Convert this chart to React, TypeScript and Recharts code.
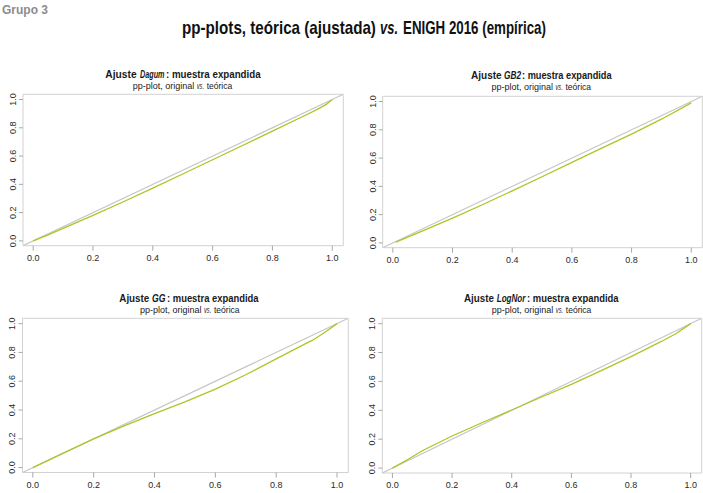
import React, { useLayoutEffect, useRef, useState } from 'react';
import { LineChart, Line, XAxis, YAxis, ReferenceArea } from 'recharts';

const axisTicks = [0, 0.2, 0.4, 0.6, 0.8, 1];
const D_MIN = -0.034;
const D_MAX = 1.037;

const dagumX = [0, 0.05, 0.1, 0.2, 0.3, 0.4, 0.5, 0.6, 0.7, 0.8, 0.9, 0.95, 0.98, 1];
const dagumY = [0, 0.043, 0.088, 0.18, 0.275, 0.373, 0.473, 0.574, 0.675, 0.776, 0.878, 0.93, 0.966, 1];

const gb2X = [0.01, 0.1, 0.2, 0.3, 0.4, 0.5, 0.6, 0.7, 0.8, 0.9, 1];
const gb2Y = [0.005, 0.085, 0.175, 0.27, 0.368, 0.468, 0.57, 0.67, 0.77, 0.875, 0.99];

const ggX = [0, 0.1, 0.2, 0.3, 0.4, 0.5, 0.6, 0.7, 0.8, 0.9, 0.92, 0.96, 1];
const ggY = [0, 0.1, 0.2, 0.29, 0.375, 0.457, 0.545, 0.645, 0.755, 0.865, 0.885, 0.94, 1];

const lognorX = [0, 0.05, 0.1, 0.2, 0.3, 0.4, 0.5, 0.6, 0.7, 0.8, 0.9, 0.95, 1];
const lognorY = [0, 0.058, 0.12, 0.222, 0.314, 0.402, 0.492, 0.58, 0.675, 0.772, 0.875, 0.93, 1];

const GREEN = '#b1c326';
const DIAG = '#c6c6c6';
const BOX = '#d2d2d2';
const TICK = '#a8a8a8';
const FONT = 'Liberation Sans, Arial, sans-serif';
const TITLE_FONT = 'Liberation Sans Narrow, Liberation Sans, sans-serif';

const toPoints = (xs: number[], ys: number[]) => xs.map((x, i) => ({ x, y: ys[i] }));
const diagonal = [
  { x: D_MIN, y: D_MIN },
  { x: D_MAX, y: D_MAX },
];

const YTick = (props: any) => {
  const { x, y, payload } = props;
  const cx = x - 4;
  return (
    <text
      x={cx}
      y={y}
      transform={`rotate(-90, ${cx}, ${y})`}
      textAnchor="middle"
      dominantBaseline="central"
      fontSize={9}
      fontFamily={FONT}
      fill="#2a2a2a"
    >
      {Number(payload.value).toFixed(1)}
    </text>
  );
};

const XTick = (props: any) => {
  const { x, y, payload } = props;
  return (
    <text
      x={x}
      y={y + 5}
      textAnchor="middle"
      dominantBaseline="central"
      fontSize={9}
      fontFamily={FONT}
      fill="#2a2a2a"
    >
      {Number(payload.value).toFixed(1)}
    </text>
  );
};

type PanelProps = {
  cl: number;
  ct: number;
  cw: number;
  ch: number;
  l: number;
  t: number;
  r: number;
  b: number;
  xs: number[];
  ys: number[];
};

const Panel = ({ cl, ct, cw, ch, l, t, r, b, xs, ys }: PanelProps) => (
  <div style={{ position: 'absolute', left: cl, top: ct, width: cw, height: ch }}>
    <LineChart
      width={cw}
      height={ch}
      margin={{ left: 0, top: t - ct, right: cl + cw - r, bottom: 0 }}
    >
      <XAxis
        type="number"
        dataKey="x"
        domain={[D_MIN, D_MAX]}
        allowDataOverflow
        ticks={axisTicks}
        interval={0}
        height={ct + ch - b}
        axisLine={false}
        tickLine={{ stroke: TICK }}
        tickSize={5}
        tick={<XTick />}
      />
      <YAxis
        type="number"
        dataKey="y"
        domain={[D_MIN, D_MAX]}
        allowDataOverflow
        ticks={axisTicks}
        interval={0}
        width={l - cl}
        axisLine={false}
        tickLine={{ stroke: TICK }}
        tickSize={4}
        tick={<YTick />}
      />
      <ReferenceArea x1={D_MIN} x2={D_MAX} y1={D_MIN} y2={D_MAX} fill="none" stroke={BOX} strokeWidth={1} />
      <Line
        data={diagonal}
        dataKey="y"
        type="linear"
        stroke={DIAG}
        strokeWidth={1.2}
        dot={false}
        activeDot={false}
        isAnimationActive={false}
      />
      <Line
        data={toPoints(xs, ys)}
        dataKey="y"
        type="linear"
        stroke={GREEN}
        strokeWidth={1.3}
        dot={false}
        activeDot={false}
        isAnimationActive={false}
      />
    </LineChart>
  </div>
);

// A text piece horizontally scaled so that it spans [x0, x1]
const Piece = ({
  x0,
  x1,
  y,
  size,
  bold,
  italic,
  fill,
  children,
}: {
  x0: number;
  x1: number;
  y: number;
  size: number;
  bold?: boolean;
  italic?: boolean;
  fill?: string;
  children: React.ReactNode;
}) => {
  const ref = useRef<SVGTextElement>(null);
  const [sx, setSx] = useState(1);
  useLayoutEffect(() => {
    const el = ref.current;
    if (el) {
      const w = el.getComputedTextLength();
      if (w > 0) setSx((x1 - x0) / w);
    }
  }, [x0, x1]);
  return (
    <text
      ref={ref}
      x={0}
      y={0}
      transform={`translate(${x0},${y}) scale(${sx},1)`}
      fontFamily={TITLE_FONT}
      fontWeight={bold ? 'bold' : 'normal'}
      fontStyle={italic ? 'italic' : 'normal'}
      fontSize={size}
      fill={fill || '#1a1a1a'}
    >
      {children}
    </text>
  );
};

const PanelTitle = ({
  y,
  a,
  n,
  rest,
  name,
  sep,
  s0,
}: {
  y: number;
  a: [number, number];
  n: [number, number];
  rest: [number, number];
  name: string;
  sep: string;
  s0: number;
}) => (
  <g>
    <Piece x0={a[0]} x1={a[1]} y={y} size={11} bold>
      Ajuste
    </Piece>
    <Piece x0={n[0]} x1={n[1]} y={y} size={11} bold italic>
      {name}
    </Piece>
    <Piece x0={rest[0]} x1={rest[1]} y={y} size={11} bold>
      {sep + 'muestra expandida'}
    </Piece>
    <Piece x0={s0} x1={s0 + 61.6} y={y + 11} size={9}>
      pp-plot, original
    </Piece>
    <Piece x0={s0 + 64} x1={s0 + 71.3} y={y + 11} size={9} italic>
      vs.
    </Piece>
    <Piece x0={s0 + 74} x1={s0 + 99.6} y={y + 11} size={9}>
      teórica
    </Piece>
  </g>
);

export default function App() {
  return (
    <div
      style={{
        position: 'absolute',
        left: 0,
        top: 0,
        width: 703,
        height: 493,
        background: '#fff',
        overflow: 'hidden',
      }}
    >
      <Panel cl={0} ct={88} cw={352} ch={175} l={23} t={94.3} r={343.3} b={245.7} xs={dagumX} ys={dagumY} />
      <Panel cl={352} ct={90} cw={351} ch={175} l={382.7} t={96.3} r={702.3} b={247.7} xs={gb2X} ys={gb2Y} />
      <Panel cl={0} ct={312} cw={352} ch={181} l={22.5} t={318.3} r={348.3} b={472.5} xs={ggX} ys={ggY} />
      <Panel cl={352} ct={312} cw={351} ch={181} l={382.3} t={318.3} r={701.7} b={473} xs={lognorX} ys={lognorY} />
      <svg
        width={703}
        height={493}
        style={{ position: 'absolute', left: 0, top: 0, pointerEvents: 'none' }}
      >
        <text x={2} y={14} fontFamily={TITLE_FONT} fontWeight="bold" fontSize={12} fill="#8c8c8c">
          Grupo 3
        </text>
        <Piece x0={182} x1={376} y={34} size={18} bold fill="#111">
          pp-plots, teórica (ajustada)
        </Piece>
        <Piece x0={380} x1={398} y={34} size={18} bold italic fill="#111">
          vs.
        </Piece>
        <Piece x0={403} x1={546} y={34} size={18} bold fill="#111">
          ENIGH 2016 (empírica)
        </Piece>
        <PanelTitle y={78} a={[105.3, 136.7]} n={[140, 164.5]} rest={[166, 260.7]} name="Dagum" sep=": " s0={132.7} />
        <PanelTitle y={79} a={[471, 501.7]} n={[504, 521]} rest={[522, 611.7]} name="GB2" sep=": " s0={491.5} />
        <PanelTitle y={301.5} a={[119.3, 149.3]} n={[152, 165.5]} rest={[167, 258.7]} name="GG" sep=" : " s0={140} />
        <PanelTitle y={301.5} a={[464, 494]} n={[496.7, 525.5]} rest={[527, 618.7]} name="LogNor" sep=": " s0={491.8} />
      </svg>
    </div>
  );
}
